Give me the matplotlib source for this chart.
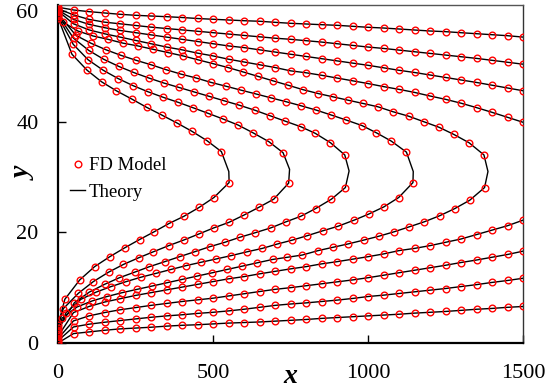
import matplotlib
matplotlib.use("Agg")
import matplotlib.pyplot as plt
from matplotlib.lines import Line2D

# ---------------- data ----------------
x_grid = [0, 50, 100, 150, 200, 250, 300, 350, 400, 450, 500, 550, 600, 650, 700, 750,
          800, 850, 900, 950, 1000, 1050, 1100, 1150, 1200, 1250, 1300, 1350, 1400, 1450, 1500]

# open curves near the top wall (y at x_grid)
U1_y = [60.7, 60.2, 59.9, 59.66, 59.42, 59.24, 59.11, 58.99, 58.84, 58.66, 58.52, 58.39, 58.26, 58.16, 57.97, 57.79,
        57.67, 57.54, 57.43, 57.25, 57.07, 56.94, 56.76, 56.58, 56.40, 56.28, 56.09, 55.91, 55.73, 55.55, 55.3]
U2_y = [60.45, 59.3, 58.5, 58.0, 57.7, 57.4, 57.1, 56.85, 56.6, 56.35, 56.1, 55.85, 55.6, 55.35, 55.1, 54.9,
        54.65, 54.4, 54.1, 53.8, 53.5, 53.25, 52.95, 52.65, 52.35, 52.05, 51.75, 51.45, 51.1, 50.75, 50.4]
U3_y = [60.2, 58.5, 57.6, 57.0, 56.5, 56.1, 55.7, 55.3, 54.9, 54.5, 54.1, 53.7, 53.4, 53.0, 52.6, 52.2,
        51.8, 51.4, 51.0, 50.6, 50.2, 49.75, 49.3, 48.9, 48.45, 48.0, 47.55, 47.1, 46.6, 46.1, 45.6]
U4_y = [60.0, 57.7, 56.6, 55.9, 55.3, 54.7, 54.1, 53.5, 53.0, 52.4, 51.9, 51.3, 50.8, 50.3, 49.8, 49.2,
        48.85, 48.4, 47.9, 47.4, 46.9, 46.35, 45.85, 45.3, 44.65, 44.05, 43.35, 42.55, 41.7, 40.8, 39.9]

# open curves near the bottom wall (y at x_grid)
L1_y = [0.0, 1.7, 2.0, 2.3, 2.55, 2.7, 2.85, 3.05, 3.2, 3.3, 3.45, 3.6, 3.7, 3.8, 3.95, 4.1,
        4.25, 4.45, 4.6, 4.75, 4.9, 5.05, 5.2, 5.4, 5.55, 5.7, 5.9, 6.1, 6.25, 6.45, 6.6]
L2_y = [0.4, 2.9, 3.4, 3.75, 4.05, 4.35, 4.65, 4.9, 5.1, 5.35, 5.55, 5.8, 6.1, 6.45, 6.8, 7.05,
        7.25, 7.5, 7.75, 8.05, 8.4, 8.65, 8.95, 9.25, 9.55, 9.85, 10.2, 10.55, 10.95, 11.3, 11.7]
L3_y = [0.8, 4.0, 4.9, 5.5, 6.0, 6.4, 6.8, 7.15, 7.5, 7.8, 8.1, 8.5, 8.9, 9.3, 9.7, 10.0,
        10.35, 10.7, 11.05, 11.4, 11.8, 12.25, 12.7, 13.15, 13.6, 14.05, 14.55, 15.0, 15.5, 16.0, 16.6]
L4_y = [1.2, 5.5, 6.6, 7.4, 8.0, 8.6, 9.1, 9.6, 10.1, 10.6, 11.1, 11.6, 12.0, 12.5, 12.95, 13.4,
        13.8, 14.3, 14.7, 15.15, 15.6, 16.1, 16.7, 17.1, 17.6, 18.2, 18.8, 19.6, 20.4, 21.2, 22.2]

# closed (C-shaped) curves: lower branch, upper branch
C1_lo_x = [0, 22, 70, 118, 167, 215, 263, 310, 358, 406, 455, 503, 552]
C1_lo_y = [3.2, 7.9, 11.4, 13.8, 15.6, 17.2, 18.7, 20.1, 21.6, 22.9, 24.5, 26.3, 29.0]
C1_up_x = [527, 480, 431, 383, 335, 286, 238, 188, 141, 94, 45, 0]
C1_up_y = [34.6, 36.6, 38.3, 39.8, 41.2, 42.6, 44.1, 45.6, 47.2, 49.3, 52.2, 58.8]

C2_lo_x = [0, 17, 66, 114, 163, 211, 260, 308, 357, 405, 454, 502, 551, 599, 647, 696, 744]
C2_lo_y = [2.8, 6.2, 9.0, 11.1, 12.8, 14.2, 15.4, 16.5, 17.6, 18.6, 19.7, 20.8, 21.8, 23.1, 24.5, 26.0, 28.9]
C2_up_x = [726, 680, 629, 581, 532, 485, 437, 388, 340, 291, 243, 194, 146, 97, 49, 0]
C2_up_y = [34.4, 36.4, 38.0, 39.4, 40.5, 41.5, 42.5, 43.5, 44.4, 45.4, 46.5, 47.8, 49.3, 51.2, 54.0, 59.05]

C3_lo_x = [0, 53, 101, 150, 198, 247, 295, 344, 392, 441, 489, 538, 586, 634, 686, 735, 783, 831, 882, 927]
C3_lo_y = [2.4, 7.3, 9.2, 10.6, 11.8, 12.8, 13.8, 14.7, 15.6, 16.5, 17.4, 18.2, 19.1, 19.9, 20.8, 21.9, 22.9,
           24.3, 26.0, 28.1]
C3_up_x = [925, 879, 830, 783, 733, 683, 634, 584, 535, 487, 438, 390, 341, 293, 244, 196, 147, 99, 50, 0]
C3_up_y = [34.0, 36.2, 37.9, 39.1, 40.1, 41.1, 42.1, 43.0, 43.8, 44.6, 45.4, 46.2, 47.0, 47.9, 48.9, 50.0, 51.3,
           52.9, 55.1, 59.3]

C4_lo_x = [0, 26, 74, 123, 171, 220, 268, 317, 365, 414, 462, 511, 559, 611, 659, 708, 756, 804, 855, 903, 955,
           1002, 1051, 1099, 1145]
C4_lo_y = [2.0, 5.5, 7.9, 9.2, 10.2, 11.1, 11.9, 12.6, 13.3, 14.0, 14.6, 15.2, 15.8, 16.5, 17.1, 17.9, 18.6, 19.4,
           20.3, 21.1, 22.2, 23.3, 24.6, 26.3, 29.0]
C4_up_x = [1124, 1075, 1027, 981, 930, 882, 833, 783, 737, 688, 640, 591, 543, 494, 446, 397, 349, 300, 252, 203,
           155, 106, 58, 0]
C4_up_y = [34.5, 36.5, 38.0, 39.3, 40.3, 41.2, 42.1, 42.9, 43.6, 44.3, 45.0, 45.7, 46.4, 47.1, 47.9, 48.6, 49.4,
           50.3, 51.1, 52.0, 53.0, 54.2, 55.6, 59.5]

C5_lo_x = [0, 13, 61, 110, 158, 207, 255, 304, 352, 401, 449, 498, 546, 595, 643, 692, 740, 788, 839, 887, 935,
           986, 1035, 1084, 1133, 1181, 1231, 1280, 1328, 1376]
C5_lo_y = [1.6, 4.5, 6.5, 7.6, 8.4, 9.1, 9.7, 10.3, 10.9, 11.5, 12.1, 12.7, 13.3, 13.9, 14.5, 15.1, 15.5, 15.9,
           16.7, 17.3, 17.9, 18.6, 19.3, 20.1, 21.0, 21.9, 23.0, 24.3, 25.8, 28.1]
C5_up_x = [1374, 1326, 1277, 1229, 1180, 1131, 1081, 1032, 984, 935, 887, 839, 790, 742, 693, 645, 597, 548, 500,
           451, 403, 355, 306, 258, 210, 161, 113, 64, 16, 0]
C5_up_y = [34.0, 36.2, 37.7, 39.0, 40.0, 41.0, 41.8, 42.7, 43.3, 43.9, 44.5, 45.1, 45.8, 46.6, 47.4, 48.2, 49.0,
           49.8, 50.5, 51.2, 51.9, 52.5, 53.1, 53.7, 54.2, 54.9, 55.5, 56.4, 58.0, 59.75]

# theory turning points (max x) of the closed curves
turn_x = [551, 747, 939, 1146, 1387]
turn_y = [31.0, 31.4, 31.1, 31.0, 31.0]

x_ticks = [0, 500, 1000, 1500]
y_ticks = [0, 20, 40, 60]

# ---------------- plotting ----------------
SERIF = ['Liberation Serif', 'DejaVu Serif']
plt.rcParams['font.family'] = SERIF

fig = plt.figure(figsize=(5.48, 3.89), dpi=100)
ax = fig.add_axes([58 / 548, 46 / 389, 465 / 548, 338 / 389])

mk = dict(linestyle='none', marker='o', mfc='none', mec='#ff0000', ms=4.8, mew=1.0, zorder=3)
ln = dict(color='black', lw=1.0, zorder=2)

open_curves = [U1_y, U2_y, U3_y, U4_y, L1_y, L2_y, L3_y, L4_y]
for ys in open_curves:
    ax.plot(x_grid, ys, **ln)
    ax.plot(x_grid, ys, **mk)

closed = [(C1_lo_x, C1_lo_y, C1_up_x, C1_up_y),
          (C2_lo_x, C2_lo_y, C2_up_x, C2_up_y),
          (C3_lo_x, C3_lo_y, C3_up_x, C3_up_y),
          (C4_lo_x, C4_lo_y, C4_up_x, C4_up_y),
          (C5_lo_x, C5_lo_y, C5_up_x, C5_up_y)]
for i, (lx, ly, ux, uy) in enumerate(closed):
    ax.plot(lx + [turn_x[i]] + ux, ly + [turn_y[i]] + uy, **ln)
    ax.plot(lx + ux, ly + uy, **mk)

ax.set_xlim(0, 1500)
ax.set_ylim(0, 61.1)
ax.set_xticks(x_ticks)
ax.set_yticks(y_ticks)
ax.tick_params(direction='in', length=6, width=1.0, labelsize=16, color='black')
ax.tick_params(axis='x', pad=15)
ax.tick_params(axis='y', pad=14)
ax.minorticks_off()

for side in ['left', 'bottom']:
    ax.spines[side].set_linewidth(1.6)
for side in ['top', 'right']:
    ax.spines[side].set_linewidth(1.0)
ax.spines['top'].set_color('#555555')
ax.spines['right'].set_color('#333333')

ax.set_xlabel('x', fontsize=20, fontweight='bold', fontstyle='italic')
ax.set_ylabel('y', fontsize=20, fontweight='bold', fontstyle='italic')
ax.xaxis.set_label_coords(0.5, -0.062)
ax.yaxis.set_label_coords(-0.045, 0.5)

handles = [Line2D([], [], **mk), Line2D([], [], **ln)]
ax.legend(handles, ['FD Model', 'Theory'], loc='upper left', bbox_to_anchor=(0.026, 0.55),
          frameon=False, fontsize=13.5, handlelength=0.8, handletextpad=0.2,
          labelspacing=0.5, borderpad=0, borderaxespad=0)

fig.savefig('out.png', dpi=100)
